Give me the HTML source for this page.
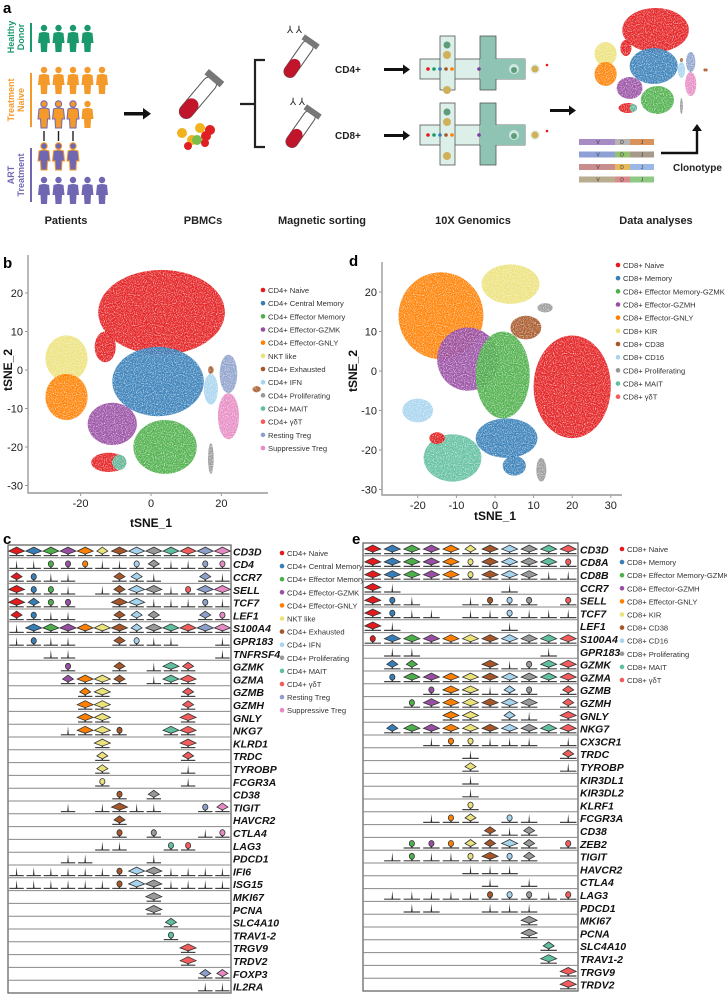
<!DOCTYPE html>
<html><head><meta charset="utf-8"><style>
body{margin:0;background:#fff;}
svg{display:block;font-family:"Liberation Sans",sans-serif;}
.pl{font-weight:bold;font-size:15px;fill:#000}
.st{font-weight:bold;font-size:11px;fill:#222}
.tk{font-size:11px;fill:#222}
.ax{font-weight:bold;font-size:12px;fill:#111}
.lg{font-size:7.6px;fill:#333}
.gn{font-weight:bold;font-style:italic;font-size:10.5px;fill:#111}
</style></head><body>
<svg id="fig" width="727" height="995" viewBox="0 0 727 995">
<defs>
 <filter id="speckle" x="0" y="0" width="100%" height="100%">
  <feTurbulence type="fractalNoise" baseFrequency="0.9" numOctaves="1" seed="3" result="n"/>
  <feColorMatrix in="n" type="matrix" values="0 0 0 0 0  0 0 0 0 0  0 0 0 0 0  0 0 0 -2.2 2.0" result="a"/>
  <feComposite in="SourceGraphic" in2="a" operator="in"/>
 </filter>
</defs>
<!-- Panel labels -->
<text class="pl" x="3" y="13">a</text>
<text class="pl" x="3" y="268">b</text>
<text class="pl" x="349" y="266">d</text>
<text class="pl" x="3" y="544">c</text>
<text class="pl" x="352" y="544">e</text>

<!-- Panel a schematic -->
<g id="panelA">
 <g>
  <text x="14" y="37" font-size="9" font-weight="bold" fill="#1a9a6c" text-anchor="middle" transform="rotate(-90 14 37)">Healthy</text>
  <text x="24" y="37" font-size="9" font-weight="bold" fill="#1a9a6c" text-anchor="middle" transform="rotate(-90 24 37)">Donor</text>
  <rect x="30" y="23" width="2" height="29" fill="#1a9a6c"/>
  <text x="14" y="100" font-size="9" font-weight="bold" fill="#f39a2b" text-anchor="middle" transform="rotate(-90 14 100)">Treatment</text>
  <text x="24" y="100" font-size="9" font-weight="bold" fill="#f39a2b" text-anchor="middle" transform="rotate(-90 24 100)">Naive</text>
  <rect x="30" y="73" width="2" height="54" fill="#f39a2b"/>
  <text x="14" y="175" font-size="9" font-weight="bold" fill="#7067b3" text-anchor="middle" transform="rotate(-90 14 175)">ART</text>
  <text x="24" y="175" font-size="9" font-weight="bold" fill="#7067b3" text-anchor="middle" transform="rotate(-90 24 175)">Treatment</text>
  <rect x="30" y="148" width="2" height="54" fill="#7067b3"/>
 </g>
 <g id="people"></g>
 <rect x="124" y="112" width="20" height="3.5" fill="#111"/><polygon points="143,108 151,113.8 143,119.5" fill="#111"/>
 <g>
  <g transform="rotate(40 196 100)"><rect x="189" y="72" width="14" height="50" rx="7" fill="#fff" stroke="#555" stroke-width="1"/><rect x="189" y="100" width="14" height="22" rx="7" fill="#c0152b"/><rect x="186" y="68" width="20" height="7" fill="#777"/></g>
  <circle cx="182" cy="133" r="5" fill="#f2b21d"/><circle cx="192" cy="140" r="5" fill="#f2b21d"/><circle cx="200" cy="128" r="5" fill="#f2b21d"/><circle cx="197" cy="140" r="5" fill="#7bbd4a"/><circle cx="206" cy="136" r="5" fill="#e02020"/><circle cx="210" cy="130" r="5" fill="#e02020"/><circle cx="188" cy="146" r="4" fill="#e02020"/><circle cx="205" cy="143" r="4" fill="#e02020"/>
 </g>
 <path d="M240 104 H255 M265 60 H255 V147 H265" stroke="#222" stroke-width="2.2" fill="none"/>
 <g>
  <g transform="rotate(35 298 60)"><rect x="292" y="38" width="12" height="42" rx="6" fill="#fff" stroke="#555"/><rect x="292" y="60" width="12" height="20" rx="6" fill="#c0152b"/><rect x="289" y="35" width="18" height="6" fill="#777"/></g>
  <g transform="rotate(35 300 130)"><rect x="294" y="108" width="12" height="42" rx="6" fill="#fff" stroke="#555"/><rect x="294" y="130" width="12" height="20" rx="6" fill="#c0152b"/><rect x="291" y="105" width="18" height="6" fill="#777"/></g>
  <text x="287" y="33" font-size="10" fill="#222">⅄ ⅄</text><text x="290" y="105" font-size="10" fill="#222">⅄ ⅄</text>
 </g>
 <text x="335" y="73" font-size="10" font-weight="bold" fill="#222">CD4+</text>
 <text x="335" y="139" font-size="10" font-weight="bold" fill="#222">CD8+</text>
 <rect x="384" y="68" width="20" height="3" fill="#111"/><polygon points="403,64.5 410,69.5 403,74.5" fill="#111"/>
 <rect x="384" y="134" width="20" height="3" fill="#111"/><polygon points="403,130.5 410,135.5 403,140.5" fill="#111"/>
 <g id="chips"></g>
 <rect x="550" y="109" width="20" height="3" fill="#111"/><polygon points="569,105.5 576,110.5 569,115.5" fill="#111"/>
 <g id="miniTsne" filter="url(#speckle)"></g>
 <g id="vdj"></g>
 <path d="M661 153 H697 V130" stroke="#111" stroke-width="2.4" fill="none"/><polygon points="692,131 697,124 702,131" fill="#111"/>
 <text x="673" y="171" font-size="10" font-weight="bold" fill="#222">Clonotype</text>
 <text class="st" x="66" y="224" text-anchor="middle">Patients</text>
 <text class="st" x="203" y="224" text-anchor="middle">PBMCs</text>
 <text class="st" x="322" y="224" text-anchor="middle">Magnetic sorting</text>
 <text class="st" x="473" y="224" text-anchor="middle">10X Genomics</text>
 <text class="st" x="656" y="224" text-anchor="middle">Data analyses</text>
</g>

<g id="panelB"></g>
<g id="panelD"></g>
<g id="panelC"></g>
<g id="panelE"></g>
</svg>
<script>
// ===== Data =====
const cd4Clusters = ["CD4+ Naive","CD4+ Central Memory","CD4+ Effector Memory","CD4+ Effector-GZMK","CD4+ Effector-GNLY","NKT like","CD4+ Exhausted","CD4+ IFN","CD4+ Proliferating","CD4+ MAIT","CD4+ γδT","Resting Treg","Suppressive Treg"];
const cd4Colors = ["#e41a1c","#377eb8","#4daf4a","#984ea3","#ff7f00","#ece27a","#a65628","#a6d4ee","#999999","#5fbf9f","#f25c5c","#8da0cb","#e78ac3"];
const cd8Clusters = ["CD8+ Naive","CD8+ Memory","CD8+ Effector Memory-GZMK","CD8+ Effector-GZMH","CD8+ Effector-GNLY","CD8+ KIR","CD8+ CD38","CD8+ CD16","CD8+ Proliferating","CD8+ MAIT","CD8+ γδT"];
const cd8Colors = ["#e41a1c","#377eb8","#4daf4a","#984ea3","#ff7f00","#ece27a","#a65628","#a6d4ee","#999999","#5fbf9f","#f25c5c"];
// tSNE blobs: cluster index, centre x, centre y, radius x, radius y (tSNE units)
const cd4BlobCluster = [0,0,0,1,5,4,3,2,9,7,11,12,6,6,8];
const cd4BlobX = [3,-13,-12,2,-24,-24,-11,4,-9,17,22,22,30,17,17];
const cd4BlobY = [15,6,-24,-3,3,-7,-14,-20,-24,-5,-1,-12,-5,0,-23];
const cd4BlobRX = [18,3,5,13,6,6,7,9,2,2,2.5,3,1.2,0.8,0.8];
const cd4BlobRY = [11,4,2.5,9,6,6,5.5,7,2,4,5,6,0.8,1,4];
const cd8BlobCluster = [4,5,6,8,3,2,0,7,1,1,9,0,8];
const cd8BlobX = [-14,4,8,13,-7,2,20,-20,3,5,-11,-15,12];
const cd8BlobY = [14,22,11,16,3,-1,-4,-10,-17,-24,-22,-17,-25];
const cd8BlobRX = [11,7.5,4,2,8,7,10,4,8,3,7.5,2,1.3];
const cd8BlobRY = [11,5,3,1.2,8,11,13,3,5,2.5,6,1.5,3];
const cd4XTicks = [-20,0,20];
const cd4YTicks = [-30,-20,-10,0,10,20];
const cd8XTicks = [-20,-10,0,10,20,30];
const cd8YTicks = [-30,-20,-10,0,10,20];
// Violin expression levels (0 none,1 trace,2 low,3 mid,4 high), one string per gene, one digit per cluster
const cd4Genes = ["CD3D","CD4","CCR7","SELL","TCF7","LEF1","S100A4","GPR183","TNFRSF4","GZMK","GZMA","GZMB","GZMH","GNLY","NKG7","KLRD1","TRDC","TYROBP","FCGR3A","CD38","TIGIT","HAVCR2","CTLA4","LAG3","PDCD1","IFI6","ISG15","MKI67","PCNA","SLC4A10","TRAV1-2","TRGV9","TRDV2","FOXP3","IL2RA"];
const cd4Levels = ["4444434444444","1122211231122","3211003310031","4221013441244","4322004411121","3211003330032","1444444344444","1211003211001","0011000000001","0002003014300","0003443014400","0000340000300","0000440000300","0000440000400","0001442004400","0000040000400","0000030000300","0000030000100","0000020000100","0000002030000","0001014110023","0000003000000","0000002020012","0000011002200","0001100010000","1111112441111","1111112441111","0000000040000","0000000040000","0000000003000","0000000002000","0000000000400","0000000000400","0000000000033","0000000000011"];
const cd8Genes = ["CD3D","CD8A","CD8B","CCR7","SELL","TCF7","LEF1","S100A4","GPR183","GZMK","GZMA","GZMB","GZMH","GNLY","NKG7","CX3CR1","TRDC","TYROBP","KIR3DL1","KIR3DL2","KLRF1","FCGR3A","CD38","ZEB2","TIGIT","HAVCR2","CTLA4","LAG3","PDCD1","MKI67","PCNA","SLC4A10","TRAV1-2","TRGV9","TRDV2"];
const cd8Levels = ["44444344444","44444244442","44444244411","41000001000","42100122202","42110112111","41000001000","24444444444","01100000010","03300041244","02444444444","00024413203","00244444403","00004403104","03444444444","00012211101","00000100003","00000300001","00000100000","00000100000","00000200000","00012302101","00000031300","00222334302","01211242300","00000111000","00000010100","01111122212","00110011100","00000000400","00000000400","00000000030","00000000040","00000000004","00000000004"];
// VDJ bar segment colours (V, D, J) per row
const vdjV = ["#a68bc4","#8ea0d6","#c98d8d","#b8ad8e"];
const vdjD = ["#b5b5b5","#92c16f","#e6b95a","#d98a8a"];
const vdjJ = ["#d9925a","#a89a8a","#9ab8e6","#8fca84"];

const NS="http://www.w3.org/2000/svg";
function mk(tag,attrs,parent){const e=document.createElementNS(NS,tag);for(const k in attrs)e.setAttribute(k,attrs[k]);parent.appendChild(e);return e;}

// ===== people icons =====
(function(){
 const g=document.getElementById('people');
 const rows=[[25,4,"#1a9a6c",null],[67,5,"#f39a2b",null],[101,3,"#f39a2b","#7067b3"],[143,3,"#7067b3","#f39a2b"],[177,5,"#7067b3",null]];
 rows.forEach(r=>{for(let i=0;i<r[1];i++){const x=44+i*14.5, y=r[0];
   const p=mk('g',{},g);
   
   
   const st=r[3]?{stroke:r[3],'stroke-width':1}:{};
   mk('circle',Object.assign({cx:x,cy:y+3,r:3.2,fill:r[2]},st),p);
   mk('path',Object.assign({d:`M${x-6} ${y+18} L${x-5} ${y+8} Q${x} ${y+6} ${x+5} ${y+8} L${x+6} ${y+18} L${x+3.5} ${y+18} L${x+3} ${y+27} L${x-3} ${y+27} L${x-3.5} ${y+18} Z`,fill:r[2]},st),p);
 }});
 const p=mk('g',{},g);
 
 
 mk('circle',{cx:87.5,cy:104,r:3.2,fill:'#f39a2b'},p);
 mk('path',{d:'M81.5 119 L82.5 109 Q87.5 107 92.5 109 L93.5 119 L91 119 L90.5 128 L84.5 128 L84 119 Z',fill:'#f39a2b'},p);
 [44,58.5,73].forEach(x=>mk('rect',{x:x-0.7,y:131,width:1.4,height:10,fill:'#222'},g));
})();

// ===== chips =====
(function(){
 const g=document.getElementById('chips');
 [[36,69],[103,135]].forEach(([top,cy])=>{
  mk('rect',{x:420,y:cy-10,width:105,height:20,fill:'#dcefe9',stroke:'#555','stroke-width':0.8},g);
  mk('rect',{x:440,y:top,width:15,height:top===36?54:62,fill:'#dcefe9',stroke:'#555','stroke-width':0.8},g);
  mk('rect',{x:480,y:top,width:16,height:top===36?54:62,fill:'#8fc4b4',stroke:'#555','stroke-width':0.8},g);
  mk('rect',{x:480,y:cy-10,width:45,height:20,fill:'#8fc4b4'},g);
  mk('circle',{cx:447,cy:top+9,r:3.5,fill:'#5f9c7a'},g);
  mk('circle',{cx:447,cy:top+19,r:4,fill:'#d1b05a'},g);
  mk('circle',{cx:447,cy:cy+21,r:4,fill:'#d1b05a'},g);
  ["#e41a1c","#1a9a6c","#377eb8","#a65628","#ff7f00"].forEach((c,i)=>mk('circle',{cx:428+i*6,cy:cy,r:1.8,fill:c},g));
  mk('circle',{cx:479,cy:cy,r:1.8,fill:'#7b3fa0'},g);
  mk('circle',{cx:514,cy:cy,r:5,fill:'#cfe8e0'},g);
  mk('circle',{cx:514,cy:cy+1,r:3,fill:'#5f9c7a'},g);
  mk('circle',{cx:535,cy:cy,r:5,fill:'#e5f1ec'},g);
  mk('circle',{cx:535,cy:cy,r:3.5,fill:'#d1b05a'},g);
  mk('circle',{cx:547,cy:cy-4,r:1.3,fill:'#e41a1c'},g);
 });
})();

// ===== VDJ =====
(function(){
 const g=document.getElementById('vdj');
 for(let i=0;i<4;i++){const y=139+i*12.5;
  const v=mk('rect',{x:579,y:y,width:36,height:6,fill:vdjV[i]},g);
  
  const d=mk('rect',{x:615,y:y,width:15,height:6,fill:vdjD[i]},g);
  
  const j=mk('rect',{x:630,y:y,width:24,height:6,fill:vdjJ[i]},g);
  
  [['V',598],['D',622],['J',642]].forEach(([t,x])=>{const tt=mk('text',{x:x,y:y+5,'font-size':5,'text-anchor':'middle',fill:'#333'},g);tt.textContent=t;});
 }
})();

// ===== tSNE =====
function drawBlobs(g,xs,ys,clusters,bx,by,brx,bry,colors,op){
 for(let i=0;i<bx.length;i++){
  const e=mk('ellipse',{cx:xs(bx[i]),cy:ys(by[i]),rx:Math.abs(xs(brx[i])-xs(0)),ry:Math.abs(ys(bry[i])-ys(0)),fill:colors[clusters[i]],'fill-opacity':op},g);
  
  
 }
}
function tsnePanel(gid,cfg){
 const g=document.getElementById(gid);
 const xs=v=>cfg.x0+v*cfg.kx, ys=v=>cfg.y0-v*cfg.ky;
 const bg=mk('g',{filter:'url(#speckle)'},g);
 
 
 drawBlobs(bg,xs,ys,cfg.bc,cfg.bx,cfg.by,cfg.brx,cfg.bry,cfg.colors,0.95);
 const ax=mk('path',{d:`M${cfg.axL} ${cfg.axT} V${cfg.axB} H${cfg.axR}`,stroke:'#999','stroke-width':1.4,fill:'none'},g);
 
 cfg.yt.forEach(t=>{const y=ys(t);mk('line',{x1:cfg.axL-3,x2:cfg.axL,y1:y,y2:y,stroke:'#999'},g);
  const tx=mk('text',{class:'tk',x:cfg.axL-5,y:y+4,'text-anchor':'end'},g);tx.textContent=t;
  });
 cfg.xt.forEach(t=>{const x=xs(t);mk('line',{x1:x,x2:x,y1:cfg.axB,y2:cfg.axB+3,stroke:'#999'},g);
  const tx=mk('text',{class:'tk',x:x,y:cfg.axB+14,'text-anchor':'middle'},g);tx.textContent=t;
  });
 const xl=mk('text',{class:'ax',x:cfg.xlx,y:cfg.xly,'text-anchor':'middle'},g);xl.textContent='tSNE_1';
 
 const yl=mk('text',{class:'ax',x:cfg.ylx,y:cfg.yly,'text-anchor':'middle',transform:`rotate(-90 ${cfg.ylx} ${cfg.yly})`},g);yl.textContent='tSNE_2';
 
 cfg.names.forEach((n,i)=>{const y=cfg.ly+i*13.17;
  const le=mk('g',{},g);
  
  
  mk('circle',{cx:cfg.lx,cy:y,r:2.3,fill:cfg.colors[i]},le);
  const t=mk('text',{class:'lg',x:cfg.lx+5,y:y+3},le);t.textContent=n;});
}
tsnePanel('panelB',{x0:151,kx:3.52,y0:370,ky:3.85,axL:28,axR:268,axT:255,axB:493,xt:cd4XTicks,yt:cd4YTicks,
 bc:cd4BlobCluster,bx:cd4BlobX,by:cd4BlobY,brx:cd4BlobRX,bry:cd4BlobRY,colors:cd4Colors,names:cd4Clusters,
 xlx:151,xly:527,ylx:12,yly:370,lx:263,ly:290});
tsnePanel('panelD',{x0:495,kx:3.86,y0:371,ky:3.95,axL:382,axR:622,axT:262,axB:495,xt:cd8XTicks,yt:cd8YTicks,
 bc:cd8BlobCluster,bx:cd8BlobX,by:cd8BlobY,brx:cd8BlobRX,bry:cd8BlobRY,colors:cd8Colors,names:cd8Clusters,
 xlx:495,xly:520,ylx:357,yly:371,lx:618,ly:265});
(function(){const g=document.getElementById('miniTsne');
 drawBlobs(g,v=>650+v*1.85,v=>60-v*2.0,cd4BlobCluster,cd4BlobX,cd4BlobY,cd4BlobRX,cd4BlobRY,cd4Colors,0.95);})();

// ===== Violins =====
function violinPanel(gid,cfg){
 const g=document.getElementById(gid);
 const nR=cfg.genes.length, nC=cfg.colors.length;
 const rh=(cfg.B-cfg.T)/nR, cw=(cfg.R-cfg.L)/nC;
 const fr=mk('rect',{x:cfg.L,y:cfg.T,width:cfg.R-cfg.L,height:cfg.B-cfg.T,fill:'#fff',stroke:'#666','stroke-width':1.3},g);
 
 for(let r=0;r<nR;r++){
  const yTop=cfg.T+r*rh, by=yTop+rh-2.2;
  if(r>0) mk('line',{x1:cfg.L,x2:cfg.R,y1:yTop,y2:yTop,stroke:'#888','stroke-width':1},g);
  const gl=mk('text',{class:'gn',x:cfg.R+2,y:yTop+rh/2+4},g);gl.textContent=cfg.genes[r];
  
  const lv=cfg.levels[r];
  for(let c=0;c<nC;c++){
   const v=+lv[c]; if(!v) continue;
   const cx=cfg.L+(c+0.5)*cw;
   const vg=mk('g',{},g);
   
   
   mk('line',{x1:cx-cw*0.42,x2:cx+cw*0.42,y1:by,y2:by,stroke:'#444','stroke-width':1.2},vg);
   mk('polygon',{points:`${cx-0.8},${by} ${cx},${by-8.5} ${cx+0.8},${by}`,fill:'#333'},vg);
   if(v===2){mk('ellipse',{cx:cx,cy:by-4.5,rx:2.6,ry:3,fill:cfg.colors[c],stroke:'#333','stroke-width':0.8},vg);}
   else if(v>=3){const w=v===3?5.5:8;
    mk('polygon',{points:`${cx-w},${by-4.5} ${cx},${by-8.5} ${cx+w},${by-4.5} ${cx},${by-1.5}`,fill:cfg.colors[c],stroke:'#333','stroke-width':0.8},vg);}
  }
 }
 cfg.names.forEach((n,i)=>{const y=cfg.ly+i*13.1;
  const le=mk('g',{},g);
  
  
  mk('circle',{cx:cfg.lx,cy:y,r:2.3,fill:cfg.colors[i]},le);
  const t=mk('text',{class:'lg',x:cfg.lx+5,y:y+3},le);t.textContent=n;});
}
violinPanel('panelC',{L:8,R:231,T:545,B:993,genes:cd4Genes,levels:cd4Levels,colors:cd4Colors,names:cd4Clusters,lx:282,ly:553});
violinPanel('panelE',{L:363,R:578,T:543,B:991,genes:cd8Genes,levels:cd8Levels,colors:cd8Colors,names:cd8Clusters,lx:622,ly:549});
</script>
</body></html>
